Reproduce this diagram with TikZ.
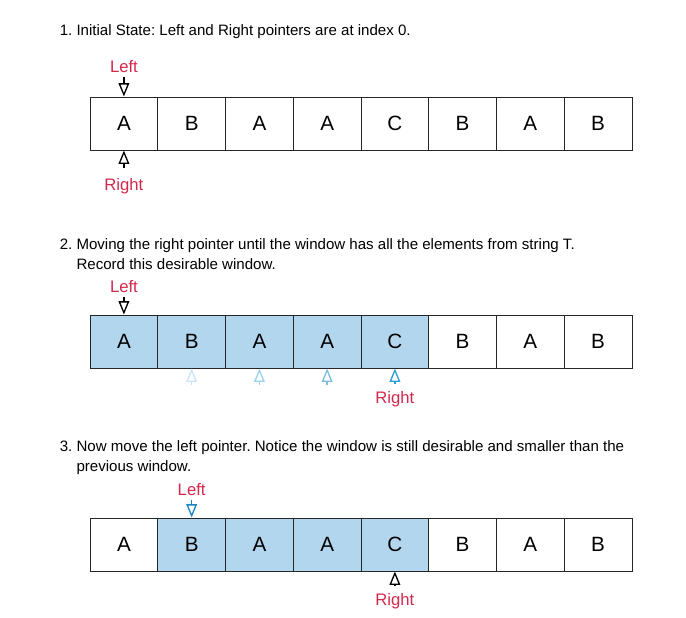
\documentclass[tikz,border=0pt]{standalone}
\usepackage{fontspec}
\setmainfont{Liberation Sans}
\usetikzlibrary{positioning,arrows.meta}
\frenchspacing

\definecolor{winblue}{HTML}{B1D6EE}
\definecolor{ptrred}{HTML}{D2284B}
\definecolor{ghostA}{HTML}{C8E6F7}
\definecolor{ghostB}{HTML}{9DD2EF}
\definecolor{ghostC}{HTML}{7BBCE2}
\definecolor{ptrblue}{HTML}{2E9DD6}
\definecolor{leftblue}{HTML}{1A86C0}

\begin{document}
\begin{tikzpicture}[x=0.75pt,y=-0.75pt,node distance=50.81pt,>={Triangle[open,length=10pt,width=8pt]}]
	\tikzstyle{cell}=[draw=black!85,line width=0.75pt,minimum width=50.81pt,minimum height=39.75pt,inner sep=0pt,font=\fontsize{15.5}{18}\selectfont,on grid]
	\tikzstyle{win}=[cell,fill=winblue]
	\tikzstyle{ptrtext}=[text=ptrred,inner sep=0pt,font=\fontsize{12.5}{15}\selectfont]
	\tikzstyle{caption}=[anchor=west,inner sep=0pt,align=left,font=\fontsize{11.3}{15}\selectfont]
	\tikzstyle{ptr}=[->,line width=1pt]

	\useasboundingbox (0,0) rectangle (686,618);

	% 1. initial state
	\node[caption] (T1) at (59.5,32) {1.\ Initial State: Left and Right pointers are at index 0.};

	\node[cell] (C1_1) at (123.9,123.5) {A};
	\node[cell] (C1_2) [right=of C1_1] {B};
	\node[cell] (C1_3) [right=of C1_2] {A};
	\node[cell] (C1_4) [right=of C1_3] {A};
	\node[cell] (C1_5) [right=of C1_4] {C};
	\node[cell] (C1_6) [right=of C1_5] {B};
	\node[cell] (C1_7) [right=of C1_6] {A};
	\node[cell] (C1_8) [right=of C1_7] {B};

	\node[ptrtext] (L1) [above=18pt of C1_1.north] {Left};
	\node[ptrtext] (R1) [below=21pt of C1_1.south] {Right};

	\path[ptr]	(L1) edge[shorten <=3pt] (C1_1)
				(R1) edge[shorten <=8pt] (C1_1);

	% 2. move right pointer
	\node[caption] (T2) at (59.5,254) {2.\ Moving the right pointer until the window has all the elements from string T.\\\phantom{2.\ }Record this desirable window.};

	\node[win] (C2_1) at (123.9,341.5) {A};
	\node[win] (C2_2) [right=of C2_1] {B};
	\node[win] (C2_3) [right=of C2_2] {A};
	\node[win] (C2_4) [right=of C2_3] {A};
	\node[win] (C2_5) [right=of C2_4] {C};
	\node[cell] (C2_6) [right=of C2_5] {B};
	\node[cell] (C2_7) [right=of C2_6] {A};
	\node[cell] (C2_8) [right=of C2_7] {B};

	\node[ptrtext] (L2) [above=16.5pt of C2_1.north] {Left};
	\node[ptrtext] (R2) [below=17pt of C2_5.south] {Right};
	\coordinate[below=12pt of C2_2.south] (G1);
	\coordinate[below=12pt of C2_3.south] (G2);
	\coordinate[below=12pt of C2_4.south] (G3);

	\path[ptr]	(L2) edge[shorten <=3pt] (C2_1)
				(G1) edge[ghostA] (C2_2)
				(G2) edge[ghostB] (C2_3)
				(G3) edge[ghostC] (C2_4)
				(R2) edge[ptrblue,shorten <=5.5pt] (C2_5);

	% 3. move left pointer
	\node[caption] (T3) at (59.5,457.5) {3.\ Now move the left pointer. Notice the window is still desirable and smaller than the\\\phantom{3.\ }previous window.};

	\node[cell] (C3_1) at (123.9,544.5) {A};
	\node[win] (C3_2) [right=of C3_1] {B};
	\node[win] (C3_3) [right=of C3_2] {A};
	\node[win] (C3_4) [right=of C3_3] {A};
	\node[win] (C3_5) [right=of C3_4] {C};
	\node[cell] (C3_6) [right=of C3_5] {B};
	\node[cell] (C3_7) [right=of C3_6] {A};
	\node[cell] (C3_8) [right=of C3_7] {B};

	\node[ptrtext] (L3) [above=16pt of C3_2.north] {Left};
	\node[ptrtext] (R3) [below=16.5pt of C3_5.south] {Right};

	\path[ptr]	(L3) edge[leftblue,shorten <=3pt] (C3_2)
				(R3) edge[shorten <=5.5pt] (C3_5);

\end{tikzpicture}
\end{document}
